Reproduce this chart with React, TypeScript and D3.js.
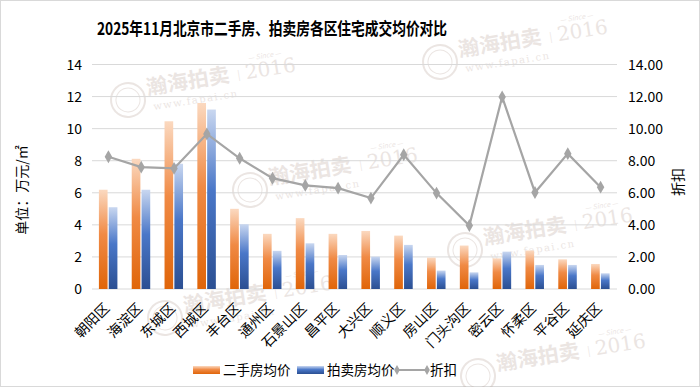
import React from 'react';
import * as d3 from 'd3';

const categories = ['朝阳区', '海淀区', '东城区', '西城区', '丰台区', '通州区', '石景山区', '昌平区', '大兴区', '顺义区', '房山区', '门头沟区', '密云区', '怀柔区', '平谷区', '延庆区'];
const secondHand = [6.19, 8.12, 10.46, 11.6, 5.0, 3.44, 4.42, 3.44, 3.62, 3.33, 1.96, 2.71, 1.91, 2.4, 1.85, 1.56];
const auction = [5.1, 6.19, 7.81, 11.19, 4.04, 2.38, 2.85, 2.12, 2.02, 2.75, 1.15, 1.04, 2.33, 1.5, 1.5, 0.98];
const discount = [8.25, 7.6, 7.52, 9.67, 8.15, 6.91, 6.46, 6.29, 5.67, 8.37, 5.98, 3.96, 11.98, 6.02, 8.44, 6.35];
const leftTicks = [0, 2, 4, 6, 8, 10, 12, 14];
const seriesNames = ['二手房均价', '拍卖房均价', '折扣'];

const W = 700;
const H = 387;
const FONT = '"Noto Sans CJK SC", "Noto Sans", sans-serif';

// watermark positions (decoration of the source image)
const marks = [
  { x: 128, y: 100, www: true },
  { x: 440, y: 62, www: true },
  { x: 250, y: 190, www: true },
  { x: 465, y: 250, www: true },
  { x: 165, y: 318, www: true },
  { x: 478, y: 376, www: false },
];

const Watermark = ({ x, y, www }: { x: number; y: number; www: boolean }) => (
  <g transform={`translate(${x},${y}) rotate(-9)`} opacity={0.28} fill="#b9a49a" fontFamily={FONT}>
    <circle cx={0} cy={0} r={17} fill="none" stroke="#b9a49a" strokeWidth={2} />
    <circle cx={0} cy={0} r={12} fill="none" stroke="#b9a49a" strokeWidth={1} />
    <text x={20} y={-2} fontSize={21} fontWeight="bold">瀚海拍卖</text>
    <text x={112} y={-4} fontSize={10}>|</text>
    <text x={120} y={-2} fontSize={20} fontFamily="'DejaVu Serif', serif">2016</text>
    <text x={125} y={-20} fontSize={7} fontStyle="italic">— Since —</text>
    {www && <text x={24} y={14} fontSize={10} letterSpacing={1.5} fontFamily="'DejaVu Serif', serif">www.fapai.cn</text>}
  </g>
);

const diamond = d3.symbol().type(d3.symbolDiamond).size(48)();
const smallDiamond = d3.symbol().type(d3.symbolDiamond).size(28)();

export default function App() {
  const x = d3.scaleBand<string>().domain(categories).range([92, 617]).padding(0);
  const inner = d3.scaleBand<string>().domain(['a', 'b']).range([-9.5, 9]).paddingInner(0.12);
  const y = d3.scaleLinear().domain([0, 14]).range([289, 64.5]);
  const y2 = d3.scaleLinear().domain([0, 14]).range([289, 64.5]);
  const cx = (c: string) => (x(c) ?? 0) + x.bandwidth() / 2;

  const line = d3.line<number>()
    .x((_, i) => cx(categories[i]))
    .y(d => y2(d));

  return (
    <svg width={W} height={H} style={{ position: 'absolute', left: 0, top: 0 }} fontFamily={FONT}>
      <defs>
        <linearGradient id="gOrange" x1="0" y1="0" x2="0" y2="1">
          <stop offset="0" stopColor="#fbd9c0" />
          <stop offset="0.45" stopColor="#f08a45" />
          <stop offset="1" stopColor="#e06509" />
        </linearGradient>
        <linearGradient id="gBlue" x1="0" y1="0" x2="0" y2="1">
          <stop offset="0" stopColor="#c9d7f0" />
          <stop offset="0.45" stopColor="#4a77c8" />
          <stop offset="1" stopColor="#2b4f92" />
        </linearGradient>
      </defs>
      <rect x={0.5} y={0.5} width={W - 1} height={H - 1} fill="#fff" stroke="#d9d9d9" />

      {marks.map((m, i) => <Watermark key={i} x={m.x} y={m.y} www={m.www} />)}

      <text x={272} y={35} textAnchor="middle" fontSize={17.5} fontWeight="bold" fill="#000"
        textLength={350} lengthAdjust="spacingAndGlyphs">
        2025年11月北京市二手房、拍卖房各区住宅成交均价对比
      </text>

      {leftTicks.map(t => (
        <g key={t}>
          <line x1={92} x2={617} y1={y(t)} y2={y(t)} stroke="#d9d9d9" strokeWidth={1} />
          <text x={82} y={y(t) + 5} textAnchor="end" fontSize={14} fill="#000">{t}</text>
          <text x={628} y={y2(t) + 5} textAnchor="start" fontSize={14} fill="#000">{t.toFixed(2)}</text>
        </g>
      ))}

      {categories.map((c, i) => (
        <g key={c}>
          <rect x={cx(c) + (inner('a') ?? 0)} y={y(secondHand[i])}
            width={inner.bandwidth()} height={y(0) - y(secondHand[i])} fill="url(#gOrange)" />
          <rect x={cx(c) + (inner('b') ?? 0)} y={y(auction[i])}
            width={inner.bandwidth()} height={y(0) - y(auction[i])} fill="url(#gBlue)" />
          <text transform={`translate(${cx(c) + 2},${309}) rotate(-45)`} textAnchor="end"
            fontSize={14} fill="#000">{c}</text>
        </g>
      ))}

      <path d={line(discount) ?? ''} fill="none" stroke="#a5a5a5" strokeWidth={2.2} />
      {discount.map((d, i) => (
        <path key={i} d={diamond ?? ''} transform={`translate(${cx(categories[i])},${y2(d)})`} fill="#a5a5a5" />
      ))}

      <text transform="translate(27,190) rotate(-90)" textAnchor="middle" fontSize={14} fill="#000">单位：万元/㎡</text>
      <text transform="translate(683,182) rotate(-90)" textAnchor="middle" fontSize={14} fill="#000">折扣</text>

      {/* legend */}
      <g fontSize={13.5} fill="#000">
        <rect x={193} y={366} width={27} height={8} fill="url(#gOrange)" />
        <text x={223} y={375}>{seriesNames[0]}</text>
        <rect x={297} y={366} width={27} height={8} fill="url(#gBlue)" />
        <text x={327} y={375}>{seriesNames[1]}</text>
        <line x1={397} x2={427} y1={370} y2={370} stroke="#a5a5a5" strokeWidth={2} />
        <path d={smallDiamond ?? ''} transform="translate(397,370)" fill="#a5a5a5" />
        <path d={smallDiamond ?? ''} transform="translate(427,370)" fill="#a5a5a5" />
        <text x={430} y={375}>{seriesNames[2]}</text>
      </g>
    </svg>
  );
}
